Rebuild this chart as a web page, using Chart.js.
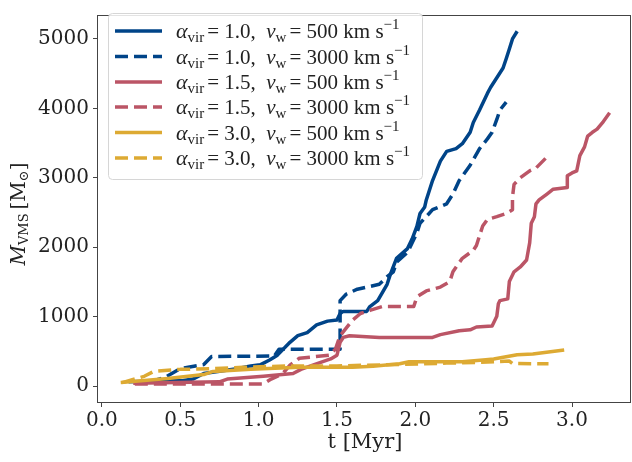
<!DOCTYPE html>
<html>
<head>
<meta charset="utf-8">
<script src="https://cdn.jsdelivr.net/npm/chart.js@4"></script>
<style>
  html, body { margin: 0; padding: 0; background: #fff; }
  #wrap { width: 632px; height: 462px; }
</style>
</head>
<body>
<div id="wrap"><canvas id="vmsChart" width="632" height="462"></canvas></div>
<script>
// tick positions
const xTicks = [0.0, 0.5, 1.0, 1.5, 2.0, 2.5, 3.0];
const yTicks = [0, 1000, 2000, 3000, 4000, 5000];

// legend labels
const alphaLabels = ['1.0', '1.0', '1.5', '1.5', '3.0', '3.0'];
const windLabels = ['500', '3000', '500', '3000', '500', '3000'];
const colors = ['#004488', '#004488', '#BB5566', '#BB5566', '#DDAA33', '#DDAA33'];
const dashed = [false, true, false, true, false, true];

// alpha_vir = 1.0, v_w = 500
const tA1w500 = [0.17, 0.52, 0.58, 0.65, 0.74, 0.86, 0.95, 1.01, 1.07, 1.12, 1.20, 1.25, 1.31, 1.37, 1.44, 1.50, 1.52, 1.54, 1.69, 1.71, 1.76, 1.82, 1.84, 1.88, 1.95, 1.98, 2.01, 2.03, 2.06, 2.07, 2.11, 2.16, 2.20, 2.26, 2.30, 2.35, 2.37, 2.41, 2.46, 2.48, 2.52, 2.56, 2.58, 2.60, 2.62, 2.65];
const mA1w500 = [60, 80, 100, 180, 210, 250, 290, 305, 375, 445, 630, 725, 770, 880, 935, 950, 1045, 1075, 1075, 1145, 1230, 1465, 1605, 1840, 1980, 2120, 2300, 2485, 2580, 2680, 2960, 3240, 3380, 3420, 3490, 3655, 3795, 3975, 4215, 4300, 4440, 4580, 4715, 4855, 5000, 5110];

// alpha_vir = 1.0, v_w = 3000
const tA1w3000 = [0.30, 0.40, 0.50, 0.65, 0.70, 1.10, 1.13, 1.52, 1.52, 1.56, 1.63, 1.69, 1.77, 1.82, 1.86, 1.88, 1.95, 1.98, 2.01, 2.03, 2.07, 2.11, 2.20, 2.24, 2.28, 2.35, 2.41, 2.46, 2.49, 2.52, 2.54, 2.58];
const mA1w3000 = [60, 120, 250, 310, 425, 433, 530, 530, 1230, 1325, 1395, 1425, 1465, 1575, 1645, 1785, 1925, 2065, 2205, 2345, 2440, 2540, 2625, 2765, 2960, 3180, 3420, 3560, 3655, 3840, 3975, 4090];

// alpha_vir = 1.5, v_w = 500
const tA15w500 = [0.20, 0.75, 0.80, 1.03, 1.22, 1.27, 1.35, 1.46, 1.50, 1.52, 1.54, 1.58, 1.77, 2.11, 2.16, 2.28, 2.35, 2.39, 2.49, 2.52, 2.53, 2.54, 2.59, 2.60, 2.63, 2.67, 2.71, 2.73, 2.74, 2.76, 2.77, 2.79, 2.84, 2.88, 2.97, 2.97, 3.00, 3.03, 3.05, 3.08, 3.10, 3.13, 3.16, 3.20, 3.24];
const mA15w500 = [40, 60, 100, 140, 180, 240, 305, 390, 445, 630, 700, 725, 700, 700, 740, 795, 810, 850, 865, 1005, 1185, 1230, 1255, 1505, 1645, 1715, 1815, 2065, 2345, 2440, 2625, 2680, 2765, 2835, 2860, 3030, 3070, 3100, 3320, 3445, 3600, 3655, 3700, 3810, 3935];

// alpha_vir = 1.5, v_w = 3000
const tA15w3000 = [0.21, 1.03, 1.08, 1.15, 1.20, 1.26, 1.45, 1.49, 1.52, 1.60, 1.65, 1.71, 1.79, 1.99, 2.01, 2.07, 2.16, 2.22, 2.24, 2.27, 2.30, 2.37, 2.39, 2.41, 2.43, 2.46, 2.52, 2.58, 2.62, 2.62, 2.63, 2.67, 2.73, 2.77, 2.84];
const mA15w3000 = [30, 30, 100, 170, 300, 400, 445, 530, 725, 950, 1045, 1090, 1145, 1145, 1285, 1370, 1425, 1505, 1645, 1745, 1840, 1955, 2025, 2165, 2305, 2400, 2440, 2485, 2540, 2720, 2905, 3000, 3100, 3140, 3300];

// alpha_vir = 3.0, v_w = 500
const tA3w500 = [0.12, 0.42, 0.65, 0.71, 0.95, 1.26, 1.60, 1.73, 1.90, 1.96, 2.30, 2.45, 2.50, 2.65, 2.75, 2.85, 2.95];
const mA3w500 = [50, 110, 165, 210, 240, 270, 270, 285, 320, 350, 350, 380, 390, 450, 460, 490, 520];

// alpha_vir = 3.0, v_w = 3000
const tA3w3000 = [0.13, 0.27, 0.33, 0.50, 0.70, 0.90, 1.20, 1.50, 1.90, 2.20, 2.40, 2.60, 2.62, 2.85];
const mA3w3000 = [50, 140, 210, 240, 250, 270, 290, 290, 310, 330, 340, 360, 325, 320];

const allT = [tA1w500, tA1w3000, tA15w500, tA15w3000, tA3w500, tA3w3000];
const allM = [mA1w500, mA1w3000, mA15w500, mA15w3000, mA3w500, mA3w3000];

const datasets = allT.map((ts, i) => ({
    label: 'a' + alphaLabels[i] + ' v' + windLabels[i],
    data: ts.map((t, j) => ({ x: t, y: allM[i][j] })),
    borderColor: colors[i],
    backgroundColor: colors[i],
    borderWidth: 3.5,
    borderDash: dashed[i] ? [13, 6] : [],
    borderCapStyle: 'butt',
    borderJoinStyle: 'round',
    pointRadius: 0,
    tension: 0,
    fill: false,
    order: 10 - i // later series on top, like matplotlib
}));

// draw a run of text pieces (font, text, vertical shift)
function drawRich(ctx, parts, x, y, align) {
    let total = 0;
    parts.forEach(p => { ctx.font = p.font; total += ctx.measureText(p.t).width + (p.gap || 0); });
    let cx = align === 'center' ? x - total / 2 : x;
    ctx.textBaseline = 'alphabetic';
    ctx.textAlign = 'left';
    parts.forEach(p => {
        ctx.font = p.font;
        ctx.fillText(p.t, cx, y + (p.dy || 0));
        cx += ctx.measureText(p.t).width + (p.gap || 0);
    });
}

const decorations = {
    id: 'decorations',
    afterDatasetsDraw(chart) {
        const ctx = chart.ctx;
        const a = chart.chartArea;
        ctx.save();
        // frame on all four sides
        ctx.strokeStyle = '#444';
        ctx.lineWidth = 1;
        ctx.strokeRect(a.left - 0.5, a.top - 0.5, a.right - a.left + 1, a.bottom - a.top + 1);

        // legend box
        const bx = 108.5, by = 13.5, bw = 314, bh = 166;
        ctx.beginPath();
        ctx.roundRect(bx, by, bw, bh, 4);
        ctx.fillStyle = 'rgba(255,255,255,0.85)';
        ctx.fill();
        ctx.strokeStyle = '#d6d6d6';
        ctx.stroke();

        const rowY = [31, 56.5, 82, 107, 132.5, 158];
        const serif = '"Liberation Serif", "Times New Roman", serif';
        datasets.forEach((ds, i) => {
            const y = rowY[i];
            ctx.strokeStyle = ds.borderColor;
            ctx.lineWidth = 3.5;
            ctx.lineCap = 'butt';
            ctx.setLineDash(ds.borderDash);
            ctx.beginPath();
            ctx.moveTo(115, y);
            ctx.lineTo(162, y);
            ctx.stroke();
            ctx.setLineDash([]);
            ctx.fillStyle = '#222';
            drawRich(ctx, [
                { t: 'α', font: 'italic 22px ' + serif },
                { t: 'vir', font: '15px ' + serif, dy: 4, gap: 3 },
                { t: '= ' + alphaLabels[i] + ',  ', font: '21px ' + serif },
                { t: 'v', font: 'italic 21px ' + serif },
                { t: 'w', font: '15px ' + serif, dy: 4, gap: 3 },
                { t: '= ' + windLabels[i] + ' km s', font: '21px ' + serif },
                { t: '−1', font: '15px ' + serif, dy: -9 }
            ], 176, y + 7, 'left');
        });

        // axis titles
        const dv = '"DejaVu Serif", serif';
        ctx.fillStyle = '#222';
        drawRich(ctx, [{ t: 't [Myr]', font: '21px ' + dv }], 365, 448, 'center');
        ctx.translate(25, 214);
        ctx.rotate(-Math.PI / 2);
        drawRich(ctx, [
            { t: 'M', font: 'italic 20px ' + dv },
            { t: 'VMS', font: '13px ' + dv, dy: 3, gap: 4 },
            { t: '[M', font: '20px ' + dv },
            { t: '⊙', font: '13px ' + dv, dy: 3 },
            { t: ']', font: '20px ' + dv }
        ], 0, 0, 'center');
        ctx.restore();
    }
};

const tickFont = { family: '"DejaVu Serif", serif', size: 20 };

const ctx = document.getElementById('vmsChart').getContext('2d');
const vmsChart = new Chart(ctx, {
    type: 'line',
    data: { datasets: datasets },
    options: {
        responsive: false,
        animation: false,
        layout: { padding: { top: 3, right: 2, left: 0, bottom: 0 } },
        plugins: {
            legend: { display: false },
            tooltip: { enabled: false }
        },
        scales: {
            x: {
                type: 'linear',
                min: -0.025,
                max: 3.37,
                afterFit: s => { s.height = 60; },
                afterBuildTicks: s => { s.ticks = xTicks.map(v => ({ value: v })); },
                ticks: {
                    color: '#222',
                    font: tickFont,
                    padding: 2,
                    maxRotation: 0,
                    callback: v => v.toFixed(1)
                },
                grid: { drawOnChartArea: false, drawTicks: true, tickLength: 5, color: '#444' },
                border: { display: false }
            },
            y: {
                type: 'linear',
                min: -230,
                max: 5330,
                afterFit: s => { s.width = 98; },
                afterBuildTicks: s => { s.ticks = yTicks.map(v => ({ value: v })); },
                ticks: {
                    color: '#222',
                    font: tickFont,
                    padding: 4,
                    callback: v => String(v)
                },
                grid: { drawOnChartArea: false, drawTicks: true, tickLength: 5, color: '#444' },
                border: { display: false }
            }
        }
    },
    plugins: [decorations]
});
</script>
</body>
</html>
